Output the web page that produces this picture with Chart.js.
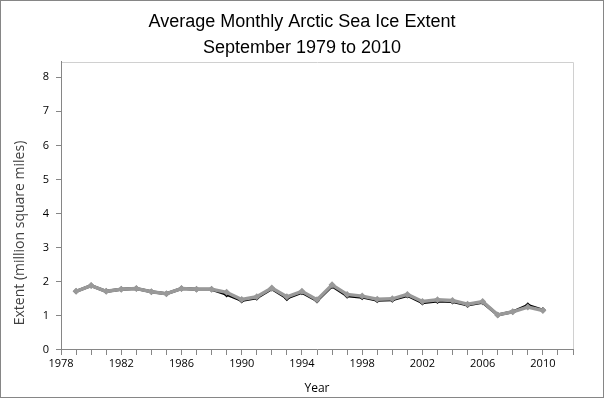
<!DOCTYPE html>
<html>
<head>
<meta charset="utf-8">
<script src="https://cdn.jsdelivr.net/npm/chart.js@4/dist/chart.umd.min.js"></script>
<style>
html,body{margin:0;padding:0;background:#fff;}
#wrap{width:604px;height:398px;position:relative;}
</style>
</head>
<body>
<div id="wrap"><canvas id="c" width="604" height="398"></canvas></div>
<script>
const years = [1979,1980,1981,1982,1983,1984,1985,1986,1987,1988,1989,1990,1991,1992,1993,1994,1995,1996,1997,1998,1999,2000,2001,2002,2003,2004,2005,2006,2007,2008,2009,2010];
const extentGray = [1.72,1.89,1.72,1.78,1.80,1.71,1.65,1.80,1.78,1.78,1.69,1.48,1.56,1.82,1.56,1.72,1.47,1.91,1.63,1.58,1.49,1.50,1.63,1.42,1.47,1.45,1.34,1.42,1.03,1.12,1.26,1.16];
const extentBlack = [1.72,1.89,1.72,1.78,1.80,1.71,1.65,1.80,1.78,1.78,1.63,1.45,1.53,1.80,1.52,1.69,1.45,1.88,1.59,1.55,1.46,1.47,1.60,1.39,1.44,1.42,1.32,1.40,1.03,1.12,1.31,1.17];
const yTickValues = [0,1,2,3,4,5,6,7,8];
const xLabelYears = [1978,1982,1986,1990,1994,1998,2002,2006,2010];
const titleLines = ['Average Monthly Arctic Sea Ice Extent','September 1979 to 2010'];
const xTitle = 'Year';
const yTitle = 'Extent (million square miles)';

const frame = {
  id:'frame',
  beforeDraw(chart){
    const {ctx, chartArea:a} = chart;
    ctx.save();
    ctx.fillStyle='#fff';
    ctx.fillRect(0,0,chart.width,chart.height);
    ctx.strokeStyle='#868686';
    ctx.lineWidth=1;
    ctx.strokeRect(0.5,0.5,chart.width-1,chart.height-1);
    ctx.strokeStyle='#d0d0d0';
    ctx.beginPath();
    ctx.moveTo(Math.round(a.left)+0.5, Math.round(a.top)+0.5);
    ctx.lineTo(Math.round(a.right)+0.5, Math.round(a.top)+0.5);
    ctx.lineTo(Math.round(a.right)+0.5, Math.round(a.bottom)+0.5);
    ctx.stroke();
    ctx.restore();
  },
  afterDraw(chart){
    const {ctx} = chart;
    ctx.save();
    ctx.translate(20, 233);
    ctx.rotate(-Math.PI/2);
    ctx.font = '14px "Open Sans", "DejaVu Sans", sans-serif';
    ctx.fillStyle = '#404040';
    ctx.textAlign='center';
    ctx.textBaseline='middle';
    ctx.fillText(yTitle,0,0);
    ctx.restore();
  }
};

new Chart(document.getElementById('c'), {
  type:'line',
  data:{
    datasets:[
      {
        label:'gray',
        data: years.map((y,i)=>({x:y,y:extentGray[i]})),
        borderColor:'#999999',
        backgroundColor:'#999999',
        borderWidth:3.5,
        pointStyle:'rectRot',
        pointRadius:3.5,
        pointBorderWidth:0,
        tension:0,
        order:1
      },
      {
        label:'black',
        data: years.map((y,i)=>({x:y,y:extentBlack[i]})),
        borderColor:'#000000',
        backgroundColor:'#000000',
        borderWidth:3,
        pointStyle:'rectRot',
        pointRadius:3,
        pointBorderWidth:0,
        tension:0,
        order:2
      }
    ]
  },
  plugins:[frame],
  options:{
    responsive:false,
    animation:false,
    devicePixelRatio:1,
    layout:{padding:{left:31,right:31,top:0,bottom:0}},
    plugins:{
      legend:{display:false},
      tooltip:{enabled:false},
      title:{
        display:true,
        text:titleLines,
        color:'#000',
        font:{family:'"Liberation Sans", Arial, sans-serif',size:18,weight:'normal',lineHeight:1.44},
        padding:{top:9,bottom:1}
      }
    },
    scales:{
      x:{
        type:'linear',
        min:1978,max:2012,
        afterBuildTicks(s){ const t=[]; for(let v=1978; v<=2012; v++) t.push({value:v}); s.ticks=t; },
        afterFit(s){ s.height = 48; },
        ticks:{
          autoSkip:false, maxRotation:0, minRotation:0,
          color:'#000',
          font:{family:'"Open Sans", "DejaVu Sans", sans-serif',size:11},
          padding:2,
          callback(v){ return xLabelYears.includes(v) ? String(v) : ''; }
        },
        grid:{drawOnChartArea:false, drawTicks:true, tickLength:5, color:'#868686'},
        border:{color:'#868686'},
        title:{display:true,text:xTitle,color:'#000',font:{family:'"Open Sans", "DejaVu Sans", sans-serif',size:12},padding:{top:0,bottom:2}}
      },
      y:{
        type:'linear',
        min:0,max:8.45,
        afterBuildTicks(s){ s.ticks = yTickValues.map(v=>({value:v})); },
        afterFit(s){ s.width = 30; },
        ticks:{
          color:'#000',
          font:{family:'"Open Sans", "DejaVu Sans", sans-serif',size:11},
          padding:7
        },
        grid:{drawOnChartArea:false, drawTicks:true, tickLength:5, color:'#868686'},
        border:{color:'#868686'}
      }
    }
  }
});
</script>
</body>
</html>
